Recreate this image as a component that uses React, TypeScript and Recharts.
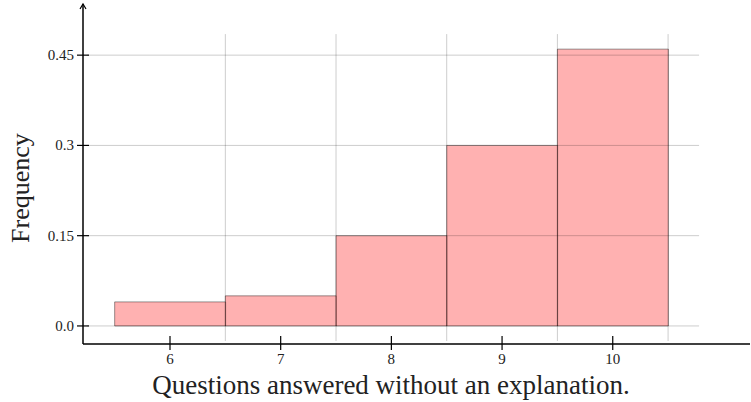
import {
  ComposedChart,
  Bar,
  XAxis,
  YAxis,
  ReferenceLine,
  ReferenceDot,
} from "recharts";

const questions = [6, 7, 8, 9, 10];
const frequency = [0.04, 0.05, 0.15, 0.3, 0.46];
const yTicks = [0, 0.15, 0.3, 0.45];
const yTickLabels = ["0.0", "0.15", "0.3", "0.45"];
const xGridAt = [6.5, 7.5, 8.5, 9.5, 10.5];

const data = questions.map((q, i) => ({ q, freq: frequency[i] }));

const FONT = "'Liberation Serif', 'DejaVu Serif', serif";
const X_DOMAIN: [number, number] = [5.214, 11.24];
const Y_DOMAIN: [number, number] = [-0.03, 0.535];

const YTick = (props: any) => {
  const { x, y, payload } = props;
  const idx = yTicks.indexOf(payload.value);
  return (
    <g>
      <line x1={x - 6} x2={x + 6} y1={y} y2={y} stroke="#000" strokeWidth={1.2} />
      <text x={x - 9} y={y} dy={5} textAnchor="end" fontSize={15} fontFamily={FONT} fill="#222">
        {idx >= 0 ? yTickLabels[idx] : payload.value}
      </text>
    </g>
  );
};

const XTick = (props: any) => {
  const { x, y, payload } = props;
  return (
    <g>
      <line x1={x} x2={x} y1={y - 8} y2={y + 6} stroke="#000" strokeWidth={1.2} />
      <text x={x} y={y + 20} textAnchor="middle" fontSize={15} fontFamily={FONT} fill="#222">
        {payload.value}
      </text>
    </g>
  );
};

const ArrowUp = (props: any) => {
  const { cx, cy } = props;
  return (
    <path
      d={`M${cx - 3},${cy + 5} L${cx},${cy} L${cx + 3},${cy + 5}`}
      fill="none"
      stroke="#000"
      strokeWidth={1.2}
    />
  );
};

const XLabel = () => (
  <text x={391} y={394} textAnchor="middle" fontSize={27} fontFamily={FONT} fill="#222">
    Questions answered without an explanation.
  </text>
);

const YLabel = () => (
  <text
    x={0}
    y={0}
    transform="translate(29, 188) rotate(-90)"
    textAnchor="middle"
    fontSize={26}
    fontFamily={FONT}
    fill="#222"
  >
    Frequency
  </text>
);

const App = () => {
  return (
    <div style={{ position: "absolute", left: 0, top: 0, background: "#fff" }}>
      <ComposedChart
        width={751}
        height={402}
        data={data}
        margin={{ top: 4, right: 1, bottom: 0, left: 0 }}
        barCategoryGap={0}
        barGap={0}
      >
        <XAxis
          dataKey="q"
          type="number"
          domain={X_DOMAIN}
          allowDataOverflow
          ticks={questions}
          height={58}
          tickSize={0}
          tickMargin={0}
          tickLine={false}
          axisLine={{ stroke: "#000", strokeWidth: 1.5 }}
          tick={<XTick />}
          interval={0}
          label={<XLabel />}
        />
        <YAxis
          type="number"
          domain={Y_DOMAIN}
          allowDataOverflow
          ticks={yTicks}
          width={83}
          tickSize={0}
          tickMargin={0}
          tickLine={false}
          axisLine={{ stroke: "#000", strokeWidth: 1.5 }}
          tick={<YTick />}
          interval={0}
          label={<YLabel />}
        />
        {yTicks.map((t) => (
          <ReferenceLine
            key={`h${t}`}
            segment={[
              { x: 5.25, y: t },
              { x: 10.78, y: t },
            ]}
            stroke="#000"
            strokeOpacity={0.2}
            strokeWidth={1}
            ifOverflow="visible"
          />
        ))}
        {xGridAt.map((g) => (
          <ReferenceLine
            key={`v${g}`}
            segment={[
              { x: g, y: -0.025 },
              { x: g, y: 0.485 },
            ]}
            stroke="#000"
            strokeOpacity={0.2}
            strokeWidth={1}
            ifOverflow="visible"
          />
        ))}
        <Bar
          dataKey="freq"
          fill="#ff6b6b"
          fillOpacity={0.53}
          stroke="#000"
          strokeOpacity={0.4}
          strokeWidth={1}
          isAnimationActive={false}
        />
        <ReferenceDot
          x={X_DOMAIN[0]}
          y={Y_DOMAIN[1]}
          ifOverflow="visible"
          shape={<ArrowUp />}
        />
      </ComposedChart>
    </div>
  );
};

export default App;
